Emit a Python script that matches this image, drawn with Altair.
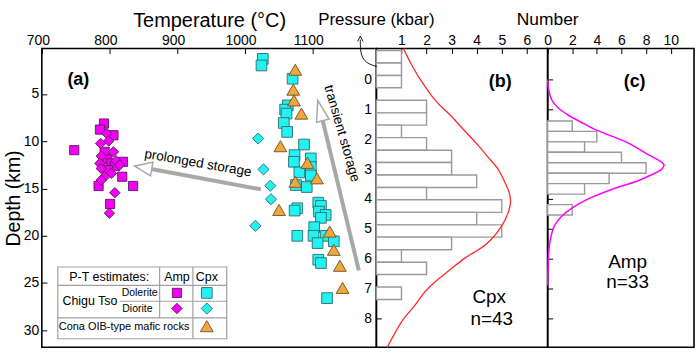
import altair as alt
import pandas as pd

# ---------------- data ----------------
# Panel (a): temperature (°C) / depth (km) estimates
amp_dol_temp = [748, 792, 786, 806, 793, 797, 820, 803, 808, 798, 819, 784, 835, 801]
amp_dol_depth = [10.95, 8.13, 8.77, 9.37, 11.13, 11.93, 12.18, 12.35, 12.63, 13.06, 13.76, 14.74, 14.74, 16.64]
amp_dio_temp = [796, 799, 787, 806, 788, 810, 786, 815, 788, 803, 793, 788, 808, 800]
amp_dio_depth = [9.19, 9.97, 10.24, 11.13, 11.58, 12.08, 12.35, 12.53, 12.88, 13.40, 13.76, 14.11, 15.45, 17.62]
cpx_dol_temp = [1027, 1025, 1071, 1064, 1060, 1062, 1058, 1063, 1088, 1074, 1073, 1098, 1081, 1098,
                1098, 1076, 1092, 1109, 1113, 1078, 1074, 1110, 1120, 1113, 1103, 1078, 1102, 1120,
                1108, 1132, 1109, 1113, 1122]
cpx_dol_depth = [1.29, 1.99, 3.39, 6.21, 6.66, 7.08, 8.07, 9.02, 10.35, 11.47, 12.18, 11.82, 13.30, 12.74,
                 13.63, 14.64, 14.85, 16.50, 16.85, 17.09, 17.34, 17.45, 17.80, 18.11, 19.09, 20.01, 20.01, 20.01,
                 20.78, 20.59, 22.54, 22.89, 26.60]
cpx_dio_temp = [1020, 1028, 1038, 1039, 1016]
cpx_dio_depth = [9.72, 12.98, 14.71, 16.14, 18.96]
cona_temp = [1075, 1072, 1073, 1084, 1053, 1093, 1075, 1107, 1051, 1126, 1132, 1141, 1145]
cona_depth = [2.44, 4.55, 5.68, 7.08, 10.53, 12.29, 14.29, 13.93, 17.27, 19.56, 21.49, 23.18, 25.52]

# Panel (b): Cpx pressure histogram (kbar) and fitted curve
cpx_edges = [-0.97, -0.55, -0.13, 0.28, 0.70, 1.12, 1.53, 1.95, 2.37, 2.78, 3.20,
             3.62, 4.03, 4.45, 4.87, 5.28, 5.70, 6.12, 6.53, 6.95, 7.37]
cpx_counts = [1, 1, 1, 0, 2, 2, 1, 2, 3, 3, 4, 2, 5, 4, 5, 3, 1, 2, 0, 1]
cpx_curve_p = [-1.03, -0.5, 0.0, 0.7, 1.2, 1.7, 2.2, 2.6, 3.0, 3.4, 3.8, 4.1, 4.4, 4.9,
               5.5, 6.0, 6.4, 6.7, 7.1, 7.6, 8.0, 8.4, 8.97]
cpx_curve_n = [1.08, 1.4, 1.75, 2.35, 2.95, 3.5, 4.05, 4.45, 4.85, 5.1, 5.3, 5.35, 5.28, 5.0,
               4.4, 3.5, 2.9, 2.45, 1.95, 1.5, 1.1, 0.8, 0.43]

# Panel (c): Amp pressure histogram and fitted curve
amp_edges = [1.39, 1.74, 2.09, 2.44, 2.79, 3.14, 3.49, 3.84, 4.19, 4.54]
amp_counts = [2, 4, 3, 6, 8, 5, 3, 0, 2]
amp_curve_p = [0.0, 0.35, 0.7, 0.95, 1.2, 1.45, 1.7, 1.9, 2.1, 2.3, 2.5, 2.7, 2.85, 3.0,
               3.2, 3.4, 3.7, 4.0, 4.3, 4.6, 4.9, 5.2, 5.7, 6.3, 6.9]
amp_curve_n = [0.0, 0.08, 0.35, 0.85, 1.7, 2.8, 4.0, 5.2, 6.4, 7.3, 8.1, 9.0, 9.45, 9.3,
               8.4, 7.3, 5.1, 3.3, 2.0, 1.1, 0.55, 0.3, 0.1, 0.03, 0.0]

temp_ticks = [700, 800, 900, 1000, 1100]
depth_ticks = [5, 10, 15, 20, 25, 30]
pressure_ticks = [0, 1, 2, 3, 4, 5, 6, 7, 8]
num_b_ticks = [1, 2, 3, 4, 5, 6]
num_c_ticks = [0, 2, 4, 6, 8, 10]

# ---------------- layout / style ----------------
FONT = "Liberation Sans"
W_A, W_B, W_C, H = 336, 172, 147, 300
T_DOM = [700, 1195]
D_DOM = [0.2, 31.8]
P_DOM = [-1.033, 8.967]
NB_DOM = [0, 6.83]
NC_DOM = [0, 11.9]

MAG = "#f400f4"
MAG_S = "#5a1a5a"
CYA = "#22f2f2"
CYA_S = "#2f6a6a"
ORA = "#f2a73a"
ORA_S = "#6a5030"
GRAY = "#a8a8a8"

common = dict(offset=-5, tickSize=5, tickWidth=1, tickColor="black", domain=False, grid=False,
              labelColor="black", titleColor="black", labelFontSize=14,
              titleFontWeight="normal", labelFont=FONT, titleFont=FONT, format="d",
              labelOverlap=False, labelFlush=False)

AX_T = alt.Axis(orient="top", values=temp_ticks, title="Temperature (°C)", labelPadding=1,
                titlePadding=3, labelOffset=-4, titleFontSize=20, **common)
AX_D = alt.Axis(orient="left", values=depth_ticks, title="Depth (km)", labelPadding=3,
                titlePadding=0, titleFontSize=19.5, **common)
AX_NB = alt.Axis(orient="top", values=num_b_ticks, title=None, labelPadding=1, **common)
AX_PB = alt.Axis(orient="left", values=pressure_ticks, title=None, labelPadding=5, **common)
AX_NC = alt.Axis(orient="top", values=num_c_ticks, title=None, labelPadding=1, **common)
AX_PC = alt.Axis(orient="left", values=pressure_ticks, title=None, labels=False, **common)


def df(**cols):
    return pd.DataFrame(cols)


def XA(f):
    return alt.X(f, type="quantitative", scale=alt.Scale(domain=T_DOM), axis=AX_T)


def YA(f):
    return alt.Y(f, type="quantitative", scale=alt.Scale(domain=D_DOM, reverse=True), axis=AX_D)


def XB(f):
    return alt.X(f, type="quantitative", scale=alt.Scale(domain=NB_DOM), axis=AX_NB)


def YB(f):
    return alt.Y(f, type="quantitative", scale=alt.Scale(domain=P_DOM, reverse=True), axis=AX_PB)


def XC(f):
    return alt.X(f, type="quantitative", scale=alt.Scale(domain=NC_DOM), axis=AX_NC)


def YC(f):
    return alt.Y(f, type="quantitative", scale=alt.Scale(domain=P_DOM, reverse=True), axis=AX_PC)


def points(temp, depth, shape, fill, stroke, size):
    return alt.Chart(df(t=temp, d=depth)).mark_point(
        shape=shape, filled=True, fill=fill, stroke=stroke, strokeWidth=0.9, size=size, opacity=1
    ).encode(x=XA("t"), y=YA("d"))


def text_a(t, d, label, size, weight="normal", angle=0):
    return alt.Chart(df(t=[t], d=[d], s=[label])).mark_text(
        fontSize=size, fontWeight=weight, angle=angle, align="center", baseline="middle",
        color="black", font=FONT
    ).encode(x=XA("t"), y=YA("d"), text="s:N")


def text_xy(xf, yf, x, y, label, size, weight="normal"):
    return alt.Chart(df(x=[x], y=[y], s=[label])).mark_text(
        fontSize=size, fontWeight=weight, align="center", baseline="middle", color="black", font=FONT
    ).encode(x=xf("x"), y=yf("y"), text="s:N")


def text_top(xf, x, label, size):
    return alt.Chart(df(x=[x], s=[label])).mark_text(
        fontSize=size, align="center", baseline="middle", color="black", font=FONT
    ).encode(x=xf("x"), y=alt.value(-29), text="s:N")


SQ = "square"
DI = "diamond"
TRI = "triangle-up"

# ---------------- panel (a) ----------------
arrow_prol = df(t=[1024, 850], d=[15.09, 12.79])
arrow_tran = df(t=[1169, 1112], d=[23.67, 6.75])

line_prol = alt.Chart(arrow_prol).mark_line(color=GRAY, strokeWidth=4).encode(x=XA("t"), y=YA("d"))
line_tran = alt.Chart(arrow_tran).mark_line(color=GRAY, strokeWidth=4).encode(x=XA("t"), y=YA("d"))
head_prol = alt.Chart(df(t=[850], d=[12.79])).mark_point(
    shape="M0,-1L0.8,1L-0.8,1Z", filled=True, fill="white", stroke=GRAY, strokeWidth=1.5,
    size=300, angle=280, opacity=1).encode(x=XA("t"), y=YA("d"))
head_tran = alt.Chart(df(t=[1112], d=[6.75])).mark_point(
    shape="M0,-1L0.62,1L-0.62,1Z", filled=True, fill="white", stroke=GRAY, strokeWidth=1.5,
    size=440, angle=346, opacity=1).encode(x=XA("t"), y=YA("d"))

leg_box = alt.Chart(df(t1=[723.6], t2=[973.6], d1=[23.31], d2=[30.9])).mark_rect(
    fill="white", stroke="#a0a0a0", strokeWidth=1.2).encode(x=XA("t1"), x2="t2", y=YA("d1"), y2="d2")
leg_rules = alt.Chart(df(t1=[723.6, 815.3, 723.6, 874.3, 923.5],
                         t2=[973.6, 973.6, 973.6, 874.3, 923.5],
                         d1=[25.25, 26.93, 28.68, 23.31, 23.31],
                         d2=[25.25, 26.93, 28.68, 28.68, 30.9])).mark_rule(
    color="#a0a0a0", strokeWidth=1.2).encode(x=XA("t1"), x2="t2", y=YA("d1"), y2="d2")

panel_a = alt.layer(
    line_prol, line_tran, head_prol, head_tran,
    points(cpx_dol_temp, cpx_dol_depth, SQ, CYA, CYA_S, 115),
    points(cpx_dio_temp, cpx_dio_depth, DI, CYA, CYA_S, 125),
    points(cona_temp, cona_depth, TRI, ORA, ORA_S, 165),
    points(amp_dol_temp, amp_dol_depth, SQ, MAG, MAG_S, 85),
    points(amp_dio_temp, amp_dio_depth, DI, MAG, MAG_S, 110),
    text_a(754, 3.57, "(a)", 18, "bold"),
    text_a(931, 12.32, "prolonged storage", 13.5, angle=10),
    text_a(1144, 9.19, "transient storage", 13.5, angle=74),
    leg_box, leg_rules,
    text_a(799.7, 24.36, "P-T estimates:", 12.5),
    text_a(899.9, 24.36, "Amp", 12.5),
    text_a(944.1, 24.36, "Cpx", 12.5),
    text_a(771.2, 26.93, "Chigu Tso", 12.5),
    text_a(844.8, 26.05, "Dolerite", 10.5),
    text_a(841.4, 27.70, "Diorite", 10.5),
    text_a(821.8, 29.63, "Cona OIB-type mafic rocks", 11),
    points([899.9], [26.05], SQ, MAG, MAG_S, 85),
    points([944.1], [26.05], SQ, CYA, CYA_S, 115),
    points([899.9], [27.70], DI, MAG, MAG_S, 110),
    points([944.1], [27.70], DI, CYA, CYA_S, 125),
    points([944.1], [29.57], TRI, ORA, ORA_S, 165),
).properties(width=W_A, height=H)

# ---------------- panel (b) ----------------
cpx_bars = df(z=[0] * len(cpx_counts), n=cpx_counts, lo=cpx_edges[:-1], hi=cpx_edges[1:])
cpx_bars = cpx_bars[cpx_bars.n > 0]
bars_b = alt.Chart(cpx_bars).mark_rect(fill="white", stroke="#9a9a9a", strokeWidth=1.4).encode(
    x=XB("z"), x2="n", y=YB("lo"), y2="hi")
curve_b = alt.Chart(df(n=cpx_curve_n, p=cpx_curve_p)).mark_line(
    color="#ff2a2a", strokeWidth=1.3, interpolate="catmull-rom").encode(
    x=XB("n"), y=YB("p"), order="p:Q")
parr = alt.Chart(df(n=[0.02, -0.37, -0.57, -0.64, -0.64], p=[-0.43, -0.53, -0.73, -0.97, -1.33],
                    i=[0, 1, 2, 3, 4])).mark_line(
    color="black", strokeWidth=0.9, interpolate="basis").encode(x=XB("n"), y=YB("p"), order="i:Q")
parr_head = alt.Chart(df(n=[-0.64], p=[-1.36])).mark_point(
    shape="M-1,1L0,-1L1,1", filled=False, stroke="black", strokeWidth=0.9, size=30, opacity=1
).encode(x=XB("n"), y=YB("p"))

panel_b = alt.layer(
    bars_b, curve_b, parr, parr_head,
    text_xy(XB, YB, 4.94, 0.1, "(b)", 18, "bold"),
    text_xy(XB, YB, 4.5, 7.3, "Cpx", 19),
    text_xy(XB, YB, 4.6, 8.03, "n=43", 19),
    text_top(XB, 0, "Pressure (kbar)", 17),
    text_top(XB, NB_DOM[1], "Number", 17.5),
).properties(width=W_B, height=H)

# ---------------- panel (c) ----------------
amp_bars = df(z=[0] * len(amp_counts), n=amp_counts, lo=amp_edges[:-1], hi=amp_edges[1:])
amp_bars = amp_bars[amp_bars.n > 0]
bars_c = alt.Chart(amp_bars).mark_rect(fill="white", stroke="#9a9a9a", strokeWidth=1.4).encode(
    x=XC("z"), x2="n", y=YC("lo"), y2="hi")
curve_c = alt.Chart(df(n=amp_curve_n, p=amp_curve_p)).mark_line(
    color="#ff00ff", strokeWidth=1.5, interpolate="catmull-rom").encode(
    x=XC("n"), y=YC("p"), order="p:Q")

panel_c = alt.layer(
    bars_c, curve_c,
    text_xy(XC, YC, 7.07, 0.1, "(c)", 18, "bold"),
    text_xy(XC, YC, 6.5, 6.1, "Amp", 19),
    text_xy(XC, YC, 6.5, 6.77, "n=33", 19),
).properties(width=W_C, height=H)

chart = alt.hconcat(
    panel_a, panel_b, panel_c, spacing=0, bounds="flush",
    padding={"left": 2, "top": 9, "right": 5, "bottom": 3},
).configure(font=FONT).configure_view(stroke="black", strokeWidth=1.6)

chart.save("out.html", embed_options={"renderer": "svg", "actions": False})
